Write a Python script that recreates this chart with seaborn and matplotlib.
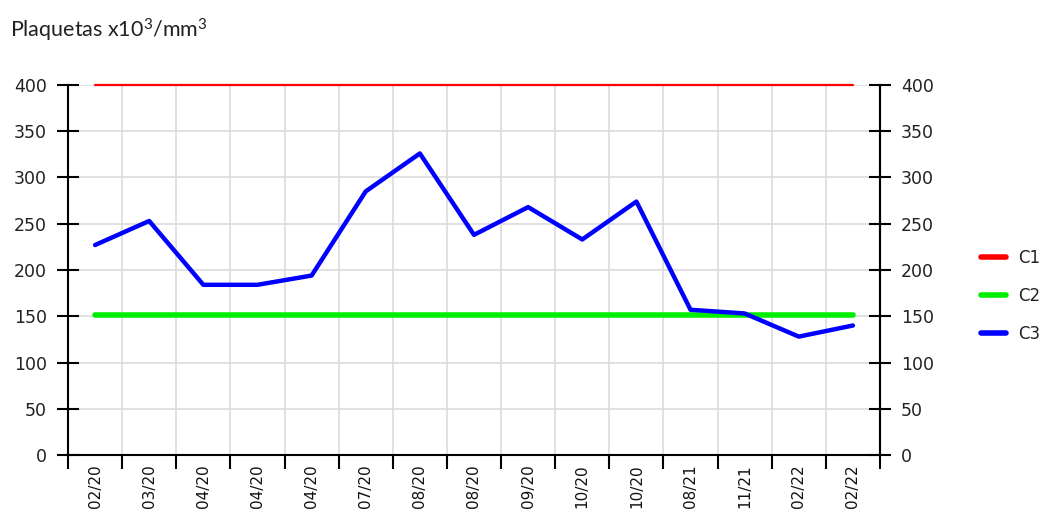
import matplotlib
matplotlib.use("Agg")
import matplotlib.pyplot as plt
import seaborn as sns
import pandas as pd
import numpy as np
from matplotlib.ticker import FixedLocator
from matplotlib.lines import Line2D

# ---- data ----
fechas = ["02/20", "03/20", "04/20", "04/20", "04/20", "07/20", "08/20", "08/20",
          "09/20", "10/20", "10/20", "08/21", "11/21", "02/22", "02/22"]
c1 = [400] * 15
c2 = [151] * 15
c3 = [227, 253, 184, 184, 194, 285, 326, 238, 268, 233, 274, 157, 153, 128, 140]
series_names = ["C1", "C2", "C3"]
y_ticks = [0, 50, 100, 150, 200, 250, 300, 350, 400]

idx = list(range(len(fechas)))
df = pd.DataFrame({
    "x": idx * 3,
    "valor": c1 + c2 + c3,
    "serie": ["C1"] * 15 + ["C2"] * 15 + ["C3"] * 15,
})

sns.set_theme(style="white")
plt.rcParams["font.family"] = ["DejaVu Sans"]
plt.rcParams["mathtext.fontset"] = "custom"
plt.rcParams["mathtext.rm"] = "Lato"
plt.rcParams["mathtext.it"] = "Lato:italic"

fig = plt.figure(figsize=(10.4, 5.15), dpi=100)
ax = fig.add_axes([68 / 1040, 60 / 515, 812 / 1040, 370 / 515])

palette = {"C1": "#ff0000", "C2": "#00ee00", "C3": "#0000ff"}
sns.lineplot(data=df, x="x", y="valor", hue="serie", palette=palette, ax=ax,
             legend=False, estimator=None)
widths = {"C1": 1.6, "C2": 4.0, "C3": 3.2}
for line, name in zip(ax.get_lines(), series_names):
    line.set_linewidth(widths[name])
    line.set_solid_joinstyle("round")
    line.set_zorder(3)
    line.set_clip_on(False)

ax.set_xlim(-0.5, len(fechas) - 0.5)
ax.set_ylim(0, 400)
ax.set_xlabel("")
ax.set_ylabel("")

ax.xaxis.set_major_locator(FixedLocator(idx))
ax.set_xticklabels(fechas, rotation=90, fontsize=11, color="#111111",
                   va="top", ha="center", family=["DejaVu Sans"])
ax.xaxis.set_minor_locator(FixedLocator(np.arange(-0.5, len(fechas), 1.0)))
ax.tick_params(axis="x", which="major", length=0, pad=7)
ax.tick_params(axis="x", which="minor", length=10, width=1.5, direction="out",
               color="black", bottom=True)
ax.yaxis.set_major_locator(FixedLocator(y_ticks))
ax.tick_params(axis="y", which="major", direction="inout", length=16, width=1.5,
               color="black", labelsize=12.5, labelcolor="#222222", left=True, pad=7)

ax.grid(False)
ax.grid(axis="y", which="major", color="#dcdcdc", linewidth=1.2, zorder=0)
ax.grid(axis="x", which="minor", color="#dcdcdc", linewidth=1.2, zorder=0)
ax.set_axisbelow(True)

for s in ["left", "bottom", "right"]:
    ax.spines[s].set_visible(True)
    ax.spines[s].set_color("black")
    ax.spines[s].set_linewidth(1.5)
ax.spines["top"].set_visible(False)

ax2 = ax.twinx()
ax2.set_ylim(ax.get_ylim())
ax2.yaxis.set_major_locator(FixedLocator(y_ticks))
ax2.tick_params(axis="y", which="major", direction="inout", length=16, width=1.5,
                color="black", labelsize=12.5, labelcolor="#222222", right=True, pad=7)
for s in ["left", "bottom", "top"]:
    ax2.spines[s].set_visible(False)
ax2.spines["right"].set_color("black")
ax2.spines["right"].set_linewidth(1.5)
ax2.grid(False)

# legend
handles = [Line2D([0], [0], color=palette[n], linewidth=4) for n in series_names]
fig.legend(handles, series_names, loc="center left",
           bbox_to_anchor=(966 / 1040, 1 - 296 / 515), frameon=False,
           fontsize=12, handlelength=1.5, handletextpad=0.7, labelspacing=1.2,
           labelcolor="#222222")

fig.text(10 / 1040, 1 - 38 / 515, r"Plaquetas x10$^{\mathrm{3}}$/mm$^{\mathrm{3}}$",
         fontsize=15.5, family=["Lato", "DejaVu Sans"], color="#222222")

fig.savefig("out.png", dpi=100)
